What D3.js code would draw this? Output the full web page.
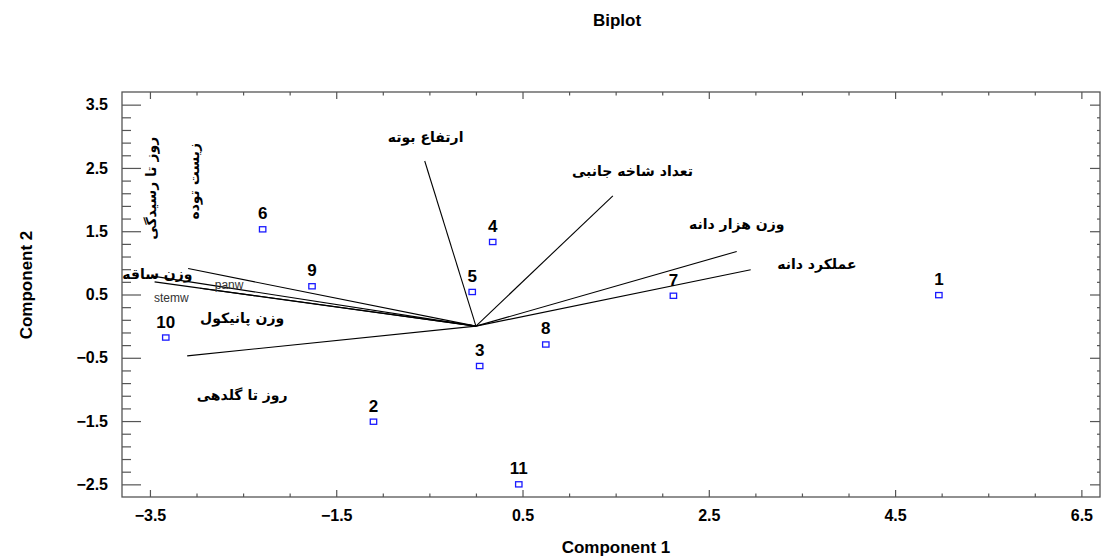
<!DOCTYPE html>
<html>
<head>
<meta charset="utf-8">
<script src="https://cdn.jsdelivr.net/npm/d3@7"></script>
<style>
  body { margin: 0; background: #fff; }
  text { font-family: "Liberation Sans", Arial, sans-serif; }
  .fa { font-family: "DejaVu Sans", serif; font-size: 14px; font-weight: bold; }
</style>
</head>
<body>
<div id="chart"></div>
<script>
// Observation scores (component 1, component 2)
const obsIds = ["1", "2", "3", "4", "5", "6", "7", "8", "9", "10", "11"];
const obsPC1 = [4.97, -1.10, 0.04, 0.18, -0.04, -2.29, 2.12, 0.75, -1.76, -3.33, 0.46];
const obsPC2 = [0.49, -1.51, -0.63, 1.33, 0.54, 1.53, 0.48, -0.29, 0.63, -0.18, -2.50];

// Variable loadings (vector end points)
const varNames = ["ارتفاع بوته", "تعداد شاخه جانبی", "وزن هزار دانه", "عملکرد دانه",
                  "وزن ساقه", "panw", "stemw", "وزن پانیکول", "روز تا گلدهی"];
const varPC1 = [-0.55, 1.47, 2.80, 2.95, -3.09, -3.47, -3.45, -2.96, -3.10];
const varPC2 = [2.61, 2.06, 1.18, 0.89, 0.91, 0.79, 0.70, 0.60, -0.47];

// Vertical labels near the upper-left vectors
const sideNames = ["روز تا رسیدگی", "زیست توده"];

// Axis ticks
const xMajor = [-3.5, -1.5, 0.5, 2.5, 4.5, 6.5];
const yMajor = [-2.5, -1.5, -0.5, 0.5, 1.5, 2.5, 3.5];

const W = 1105, H = 557;
const svg = d3.select("#chart").append("svg")
    .attr("width", W)
    .attr("height", H);

const x = d3.scaleLinear().domain([-3.8, 6.7]).range([122, 1100]);
const y = d3.scaleLinear().domain([-2.7, 3.7]).range([497, 92]);

const xMinor = d3.range(-3.5, 6.6, 0.5).filter(v => !xMajor.some(m => Math.abs(m - v) < 1e-6));
const yMinor = d3.range(-2.5, 3.6, 0.2).filter(v => !yMajor.some(m => Math.abs(m - v) < 1e-6));

// Title
svg.append("text")
    .attr("x", 617).attr("y", 26)
    .attr("text-anchor", "middle")
    .style("font-size", "17px").style("font-weight", "bold")
    .text("Biplot");

// Frame
svg.append("rect")
    .attr("x", 122).attr("y", 92)
    .attr("width", 978).attr("height", 405)
    .attr("fill", "none").attr("stroke", "#555").attr("stroke-width", 1.3);

function styleAxis(g) {
    g.select(".domain").remove();
    g.selectAll("line").attr("stroke", "#555").attr("stroke-width", 1.2);
}

// Bottom axis
svg.append("g").attr("transform", "translate(0,497)")
    .call(d3.axisBottom(x).tickValues(xMinor).tickSize(-3.5).tickFormat(""))
    .call(styleAxis);
svg.append("g").attr("transform", "translate(0,497)")
    .call(d3.axisBottom(x).tickValues(xMajor).tickSize(-7).tickPadding(13).tickFormat(d3.format(".1f")))
    .call(styleAxis)
    .call(g => g.selectAll("text")
        .style("font-size", "16px").style("font-weight", "bold").attr("fill", "#000"));
// Top axis ticks
svg.append("g").attr("transform", "translate(0,92)")
    .call(d3.axisTop(x).tickValues(xMinor).tickSize(-3.5).tickFormat(""))
    .call(styleAxis);
svg.append("g").attr("transform", "translate(0,92)")
    .call(d3.axisTop(x).tickValues(xMajor).tickSize(-7).tickFormat(""))
    .call(styleAxis);

// Left axis
svg.append("g").attr("transform", "translate(122,0)")
    .call(d3.axisLeft(y).tickValues(yMinor).tickSize(-9).tickFormat(""))
    .call(styleAxis);
svg.append("g").attr("transform", "translate(122,0)")
    .call(d3.axisLeft(y).tickValues(yMajor).tickSize(-19).tickPadding(14).tickFormat(d3.format(".1f")))
    .call(styleAxis)
    .call(g => g.selectAll("text")
        .style("font-size", "16px").style("font-weight", "bold").attr("fill", "#000"));
// Right axis ticks
svg.append("g").attr("transform", "translate(1100,0)")
    .call(d3.axisRight(y).tickValues(yMinor).tickSize(-3).tickFormat(""))
    .call(styleAxis);
svg.append("g").attr("transform", "translate(1100,0)")
    .call(d3.axisRight(y).tickValues(yMajor).tickSize(-10).tickFormat(""))
    .call(styleAxis);

// Axis titles
svg.append("text")
    .attr("x", 616).attr("y", 553)
    .attr("text-anchor", "middle")
    .style("font-size", "17px").style("font-weight", "bold")
    .text("Component 1");
svg.append("text")
    .attr("transform", "translate(32,285) rotate(-90)")
    .attr("text-anchor", "middle")
    .style("font-size", "17px").style("font-weight", "bold")
    .text("Component 2");

// Vectors
const plot = svg.append("g");
plot.selectAll(".vec")
    .data(varNames)
  .enter().append("line")
    .attr("class", "vec")
    .attr("x1", x(0)).attr("y1", y(0))
    .attr("x2", (d, i) => x(varPC1[i]))
    .attr("y2", (d, i) => y(varPC2[i]))
    .attr("stroke", "#000").attr("stroke-width", 1.1);

// Vector labels (placement in data units)
const labelPos = [[-0.54, 2.98], [1.68, 2.45], [2.80, 1.62], [3.66, 0.98],
                  [-3.42, 0.82], [-2.65, 0.66], [-3.27, 0.45], [-2.51, 0.12], [-2.51, -1.09]];
const labelFa = [true, true, true, true, true, false, false, true, true];
plot.selectAll(".vlab")
    .data(varNames)
  .enter().append("text")
    .attr("class", (d, i) => labelFa[i] ? "vlab fa" : "vlab")
    .attr("x", (d, i) => x(labelPos[i][0]))
    .attr("y", (d, i) => y(labelPos[i][1]))
    .attr("text-anchor", "middle")
    .attr("dy", "0.35em")
    .style("font-size", (d, i) => labelFa[i] ? null : "12px")
    .attr("fill", (d, i) => labelFa[i] ? "#000" : "#333")
    .text(d => d);

const sidePos = [[-3.49, 2.18], [-3.03, 2.29]];
plot.selectAll(".slab")
    .data(sideNames)
  .enter().append("text")
    .attr("class", "slab fa")
    .attr("transform", (d, i) => `translate(${x(sidePos[i][0])},${y(sidePos[i][1])}) rotate(-90)`)
    .attr("text-anchor", "middle")
    .attr("dy", "0.35em")
    .text(d => d);

// Observations
const pts = plot.selectAll(".obs")
    .data(obsIds)
  .enter().append("g")
    .attr("class", "obs")
    .attr("transform", (d, i) => `translate(${x(obsPC1[i])},${y(obsPC2[i])})`);
pts.append("rect")
    .attr("x", -3.2).attr("y", -2.6)
    .attr("width", 6.4).attr("height", 5.2)
    .attr("fill", "none").attr("stroke", "#1a1aff").attr("stroke-width", 1.3);
pts.append("text")
    .attr("y", -10)
    .attr("text-anchor", "middle")
    .style("font-size", "17px").style("font-weight", "bold")
    .text(d => d);
</script>
</body>
</html>
